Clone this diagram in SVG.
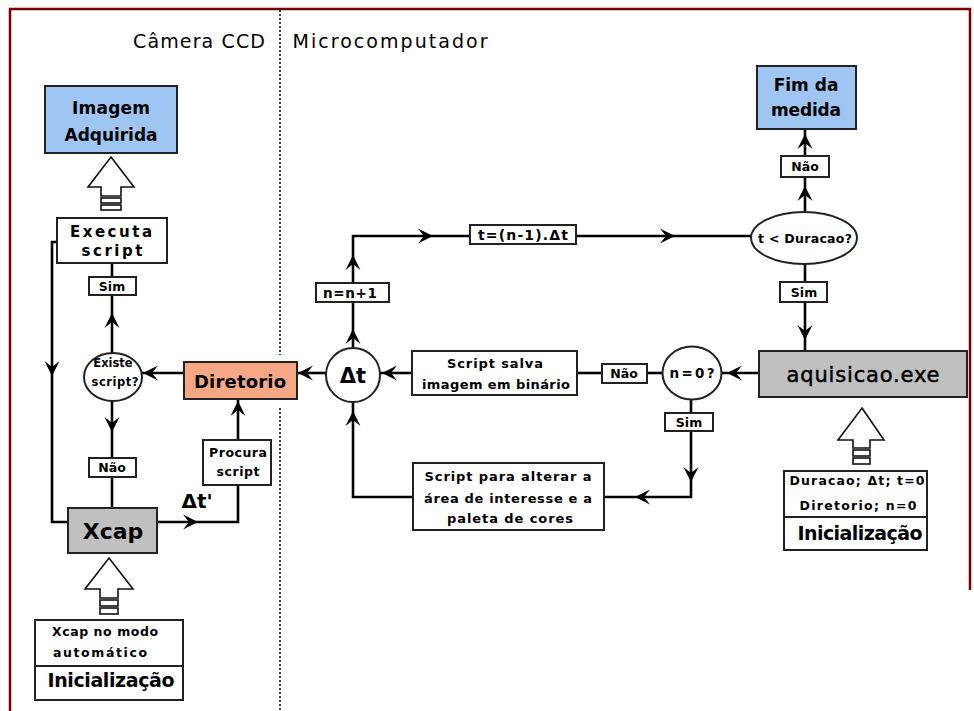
<svg xmlns="http://www.w3.org/2000/svg" xmlns:xlink="http://www.w3.org/1999/xlink" width="974" height="711" viewBox="0 0 974 711">
<style>
text{font-family:"DejaVu Sans","Liberation Sans",sans-serif;fill:#000;text-anchor:middle}
.b{font-weight:bold}
.box{fill:#fff;stroke:#222;stroke-width:2}
.blue{fill:#9fc5f2;stroke:#222;stroke-width:2}
.gray{fill:#c0c0c0;stroke:#222;stroke-width:2}
.sal{fill:#f6a784;stroke:#222;stroke-width:2}
.con{fill:none;stroke:#000;stroke-width:2.6;stroke-linejoin:miter}
.hol{fill:#fff;stroke:#111;stroke-width:1.6}
</style>
<defs>
<path id="ah" d="M0,0 L-15,-7.5 L-9,0 L-15,7.5 Z" fill="#000"/>
</defs>
<rect x="0" y="0" width="974" height="711" fill="#fff"/>
<g id="frame">
<path d="M10,711 V9 H970 V590" fill="none" stroke="#7a0000" stroke-width="2.5"/>
<line x1="280" y1="10" x2="280" y2="355" stroke="#444" stroke-width="2" stroke-dasharray="2,2"/>
<line x1="280" y1="408" x2="280" y2="711" stroke="#444" stroke-width="2" stroke-dasharray="2,2"/>
<text x="199" y="48" font-size="19" textLength="132">Câmera CCD</text>
<text x="390" y="48" font-size="19" textLength="195">Microcomputador</text>
</g>
<g id="connectors">
<path class="con" d="M57,242 H52 V522 H68"/>
<path class="con" d="M112,263 V353"/>
<path class="con" d="M112,401 V508"/>
<path class="con" d="M184,373 H142"/>
<path class="con" d="M157,522 H238 V485"/>
<path class="con" d="M238,440 V399"/>
<path class="con" d="M326,373 H297"/>
<path class="con" d="M412,373 H380"/>
<path class="con" d="M577,373 H602"/>
<path class="con" d="M647,373 H663"/>
<path class="con" d="M759,373 H721"/>
<path class="con" d="M691,400 V497 H604"/>
<path class="con" d="M413,497 H353 V402"/>
<path class="con" d="M353,348 V236 H470"/>
<path class="con" d="M576,236 H752"/>
<path class="con" d="M805,212 V129"/>
<path class="con" d="M805,264 V351"/>
<use href="#ah" transform="translate(52,376) rotate(90)"/>
<use href="#ah" transform="translate(112,313) rotate(-90)"/>
<use href="#ah" transform="translate(112,432) rotate(90)"/>
<use href="#ah" transform="translate(143,373) rotate(180)"/>
<use href="#ah" transform="translate(198,522)"/>
<use href="#ah" transform="translate(238,401) rotate(-90)"/>
<use href="#ah" transform="translate(298,373) rotate(180)"/>
<use href="#ah" transform="translate(382,373) rotate(180)"/>
<use href="#ah" transform="translate(353,329) rotate(-90)"/>
<use href="#ah" transform="translate(353,255) rotate(-90)"/>
<use href="#ah" transform="translate(433,236)"/>
<use href="#ah" transform="translate(675,236)"/>
<use href="#ah" transform="translate(805,134) rotate(-90)"/>
<use href="#ah" transform="translate(805,186) rotate(-90)"/>
<use href="#ah" transform="translate(805,340) rotate(90)"/>
<use href="#ah" transform="translate(727,373) rotate(180)"/>
<use href="#ah" transform="translate(691,482) rotate(90)"/>
<use href="#ah" transform="translate(635,497) rotate(180)"/>
<use href="#ah" transform="translate(353,411) rotate(-90)"/>
<text class="b" x="197" y="508" font-size="20">Δt'</text>
</g>
<g id="imagem">
<rect class="blue" x="45" y="86" width="132" height="67"/>
<text class="b" x="111" y="114" font-size="17" textLength="78">Imagem</text>
<text class="b" x="111" y="141" font-size="17" textLength="93">Adquirida</text>
</g>
<g id="seta-imagem">
<path class="hol" d="M111,157 L134,187 L121,187 L121,196 L101,196 L101,187 L88,187 Z"/>
<rect class="hol" x="101" y="198" width="20" height="5"/>
<rect class="hol" x="101" y="205" width="20" height="5"/>
</g>
<g id="executa">
<rect class="box" x="57" y="218" width="110" height="45"/>
<text class="b" x="111" y="237" font-size="15" textLength="82">Executa</text>
<text class="b" x="112" y="256" font-size="15" textLength="61">script</text>
</g>
<g id="sim1">
<rect class="box" x="89" y="277" width="47" height="18"/>
<text class="b" x="112" y="291" font-size="12.5">Sim</text>
</g>
<g id="existe">
<ellipse cx="113" cy="377" rx="29" ry="24" fill="#fff" stroke="#222" stroke-width="2"/>
<text class="b" x="113" y="367" font-size="11.5">Existe</text>
<text class="b" x="115" y="386" font-size="11.5" textLength="47">script?</text>
</g>
<g id="nao1">
<rect class="box" x="89" y="458" width="47" height="19"/>
<text class="b" x="112" y="472" font-size="12.5">Não</text>
</g>
<g id="xcap">
<rect class="gray" x="68" y="508" width="89" height="45"/>
<text class="b" x="113" y="539" font-size="22">Xcap</text>
</g>
<g id="seta-xcap">
<path class="hol" d="M109,558 L133,589 L118,589 L118,598 L100,598 L100,589 L85,589 Z"/>
<rect class="hol" x="100" y="600" width="18" height="6"/>
<rect class="hol" x="100" y="608" width="18" height="6"/>
</g>
<g id="init-xcap">
<rect class="box" x="35" y="620" width="148" height="80"/>
<line x1="35" y1="666" x2="183" y2="666" stroke="#222" stroke-width="2"/>
<text class="b" x="105" y="636" font-size="12.5" textLength="106">Xcap no modo</text>
<text class="b" x="100" y="657" font-size="12.5" textLength="94">automático</text>
<text class="b" x="111" y="687" font-size="19" textLength="127">Inicialização</text>
</g>
<g id="procura">
<rect class="box" x="203" y="440" width="68" height="45"/>
<text class="b" x="238" y="457" font-size="12.5" textLength="58">Procura</text>
<text class="b" x="238" y="476" font-size="12.5" textLength="43">script</text>
</g>
<g id="diretorio">
<rect class="sal" x="184" y="362" width="113" height="37"/>
<text class="b" x="240" y="388" font-size="18" textLength="92">Diretorio</text>
</g>
<g id="delta">
<circle cx="353" cy="375" r="27" fill="#fff" stroke="#222" stroke-width="2"/>
<text class="b" x="353" y="383" font-size="21">Δt</text>
</g>
<g id="nn1">
<rect class="box" x="316" y="283" width="73" height="19"/>
<text class="b" x="350" y="298" font-size="13.5" textLength="54">n=n+1</text>
</g>
<g id="tformula">
<rect class="box" x="470" y="225" width="106" height="19"/>
<text class="b" x="523" y="240" font-size="14" textLength="90">t=(n-1).Δt</text>
</g>
<g id="duracao">
<ellipse cx="804" cy="238" rx="53" ry="26" fill="#fff" stroke="#222" stroke-width="2"/>
<text class="b" x="805" y="243" font-size="12.5" textLength="94">t &lt; Duracao?</text>
</g>
<g id="nao-top">
<rect class="box" x="781" y="156" width="48" height="21"/>
<text class="b" x="805" y="171" font-size="12.5">Não</text>
</g>
<g id="fim">
<rect class="blue" x="757" y="66" width="99" height="63"/>
<text class="b" x="806" y="91" font-size="17">Fim da</text>
<text class="b" x="806" y="116" font-size="17" textLength="70">medida</text>
</g>
<g id="sim-top">
<rect class="box" x="780" y="282" width="47" height="20"/>
<text class="b" x="804" y="297" font-size="12.5">Sim</text>
</g>
<g id="salva">
<rect class="box" x="412" y="351" width="165" height="44"/>
<text class="b" x="495" y="368" font-size="13" textLength="96">Script salva</text>
<text class="b" x="496" y="389" font-size="13" textLength="148">imagem em binário</text>
</g>
<g id="nao-mid">
<rect class="box" x="602" y="364" width="45" height="19"/>
<text class="b" x="624" y="378" font-size="12.5">Não</text>
</g>
<g id="n0">
<ellipse cx="692" cy="373" rx="29.5" ry="26.5" fill="#fff" stroke="#222" stroke-width="2"/>
<text class="b" x="692" y="378" font-size="13.5" textLength="45">n=0?</text>
</g>
<g id="aquisicao">
<rect class="gray" x="759" y="351" width="208" height="46"/>
<text x="863" y="382" font-size="21" textLength="153" style="stroke:#000;stroke-width:0.5">aquisicao.exe</text>
</g>
<g id="sim-mid">
<rect class="box" x="665" y="413" width="48" height="18"/>
<text class="b" x="689" y="427" font-size="12.5">Sim</text>
</g>
<g id="alterar">
<rect class="box" x="413" y="463" width="191" height="67"/>
<text class="b" x="508" y="481" font-size="13" textLength="167">Script para alterar a</text>
<text class="b" x="508" y="503" font-size="13" textLength="168">área de interesse e a</text>
<text class="b" x="510" y="523" font-size="13" textLength="126">paleta de cores</text>
</g>
<g id="seta-aquisicao">
<path class="hol" d="M862,408 L884,440 L870,440 L870,448 L853,448 L853,440 L838,440 Z"/>
<rect class="hol" x="853" y="450" width="17" height="6"/>
<rect class="hol" x="853" y="458" width="17" height="6"/>
</g>
<g id="init-aq">
<rect class="box" x="784" y="471" width="143" height="79"/>
<line x1="784" y1="517" x2="927" y2="517" stroke="#222" stroke-width="2"/>
<text class="b" x="857" y="485" font-size="12.5" textLength="135">Duracao; Δt; t=0</text>
<text class="b" x="858" y="510" font-size="12.5" textLength="117">Diretorio; n=0</text>
<text class="b" x="860" y="540" font-size="19" textLength="125">Inicialização</text>
</g>
</svg>
